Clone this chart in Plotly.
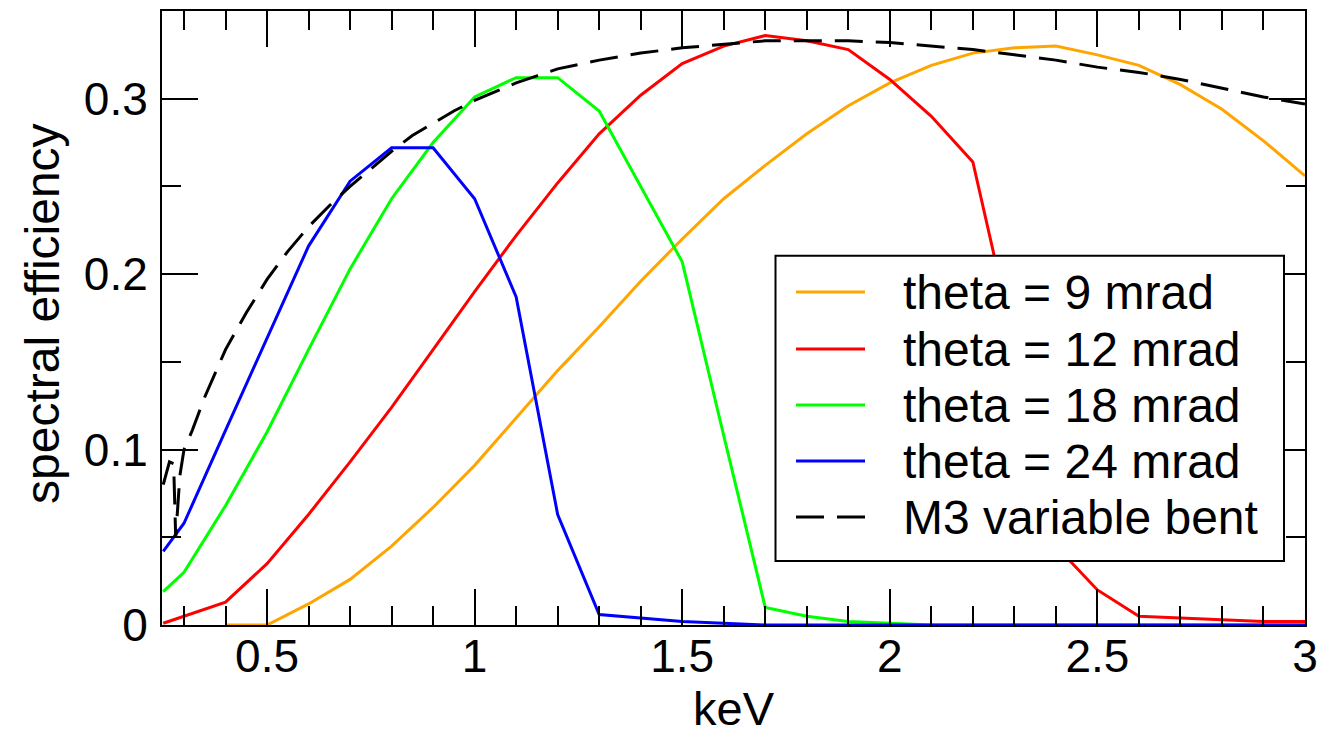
import plotly.graph_objects as go

# ---------------- data ----------------
energy = [0.25, 0.3, 0.4, 0.5, 0.6, 0.7, 0.8, 0.9, 1.0, 1.1, 1.2, 1.3, 1.4, 1.5,
          1.6, 1.7, 1.8, 1.9, 2.0, 2.1, 2.2, 2.3, 2.4, 2.5, 2.6, 2.7, 2.8, 2.9, 3.0]

eff_9mrad_x = energy[2:]
eff_9mrad = [0.0, 0.0, 0.012, 0.026, 0.045, 0.067, 0.091, 0.118, 0.145, 0.170,
             0.196, 0.220, 0.243, 0.262, 0.280, 0.296, 0.309, 0.319, 0.326, 0.329,
             0.330, 0.325, 0.319, 0.308, 0.294, 0.276, 0.256]

eff_12mrad = [0.001, 0.005, 0.013, 0.035, 0.063, 0.093, 0.124, 0.157, 0.190, 0.222,
              0.252, 0.280, 0.302, 0.320, 0.330, 0.336, 0.333, 0.328, 0.311, 0.290,
              0.264, 0.160, 0.045, 0.020, 0.005, 0.004, 0.003, 0.002, 0.002]

eff_18mrad = [0.019, 0.030, 0.068, 0.110, 0.157, 0.203, 0.243, 0.275, 0.301, 0.312,
              0.312, 0.293, 0.250, 0.207, 0.108, 0.010, 0.005, 0.002, 0.001, 0.0,
              0.0, 0.0, 0.0, 0.0, 0.0, 0.0, 0.0, 0.0, 0.0]

eff_24mrad = [0.042, 0.058, 0.111, 0.163, 0.216, 0.253, 0.272, 0.272, 0.243, 0.187,
              0.063, 0.006, 0.004, 0.002, 0.001, 0.0, 0.0, 0.0, 0.0, 0.0,
              0.0, 0.0, 0.0, 0.0, 0.0, 0.0, 0.0, 0.0, 0.0]

m3_energy = [0.25, 0.265, 0.275, 0.28, 0.29, 0.30, 0.32, 0.35, 0.40, 0.45, 0.50, 0.55,
             0.60, 0.65, 0.70, 0.75, 0.80, 0.85, 0.90, 0.95, 1.00, 1.05, 1.10, 1.15,
             1.20, 1.30, 1.40, 1.50, 1.60, 1.70, 1.80, 1.90, 2.00, 2.10, 2.20, 2.30,
             2.40, 2.50, 2.60, 2.70, 2.80, 2.90, 3.00]
m3_eff = [0.080, 0.093, 0.092, 0.050, 0.085, 0.100, 0.111, 0.130, 0.157, 0.178, 0.197, 0.213,
          0.227, 0.239, 0.250, 0.260, 0.270, 0.279, 0.286, 0.293, 0.299, 0.304, 0.309, 0.313,
          0.317, 0.322, 0.326, 0.329, 0.331, 0.333, 0.333, 0.333, 0.332, 0.330, 0.328, 0.325,
          0.322, 0.318, 0.315, 0.311, 0.306, 0.301, 0.297]

series_names = ["theta = 9 mrad", "theta = 12 mrad", "theta = 18 mrad",
                "theta = 24 mrad", "M3 variable bent"]
series_colors = ["#FFA500", "#FF0000", "#00FF00", "#0000FF", "#000000"]
series_dash = ["solid", "solid", "solid", "solid", "28px,13px"]

x_ticks = [0.5, 1, 1.5, 2, 2.5, 3]
y_ticks = [0, 0.1, 0.2, 0.3]
x_title = "keV"
y_title = "spectral efficiency"

# ---------------- figure ----------------
FONT = "Liberation Sans, Arial, Helvetica, sans-serif"
fig = go.Figure()

xs = [eff_9mrad_x, energy, energy, energy, m3_energy]
ys = [eff_9mrad, eff_12mrad, eff_18mrad, eff_24mrad, m3_eff]
for i in range(len(series_names)):
    fig.add_trace(go.Scatter(
        x=xs[i], y=ys[i], mode="lines", name=series_names[i],
        line=dict(color=series_colors[i], width=3, dash=series_dash[i]),
        showlegend=False, cliponaxis=True))

W, H = 1322, 737
ML, MR, MT, MB = 162, 17, 11, 112
PW, PH = W - ML - MR, H - MT - MB


def px_x(p):
    return (p - ML) / PW


def px_y(p):
    return (H - MB - p) / PH


# ---- hand-built legend (box, line samples, labels) ----
box_l, box_r, box_t, box_b = 775.5, 1284, 255.7, 561
fig.add_shape(type="rect", xref="paper", yref="paper",
              x0=px_x(box_l), x1=px_x(box_r), y0=px_y(box_b), y1=px_y(box_t),
              line=dict(color="black", width=2), fillcolor="white", layer="above")
row_y = [292, 349, 405, 461, 517]
for i, name in enumerate(series_names):
    fig.add_shape(type="line", xref="paper", yref="paper",
                  x0=px_x(796), x1=px_x(865), y0=px_y(row_y[i]), y1=px_y(row_y[i]),
                  line=dict(color=series_colors[i], width=3, dash=series_dash[i]),
                  layer="above")
    fig.add_annotation(xref="paper", yref="paper", x=px_x(901), y=px_y(row_y[i]),
                       text=name, showarrow=False, xanchor="left", yanchor="middle",
                       font=dict(family=FONT, size=48, color="black"))

# y-axis title
fig.add_annotation(xref="paper", yref="paper", x=px_x(42), y=px_y(314),
                   text=y_title, textangle=-90, showarrow=False,
                   xanchor="center", yanchor="middle",
                   font=dict(family=FONT, size=48, color="black"))

axis_common = dict(
    showline=True, linecolor="black", linewidth=2, mirror="ticks",
    ticks="inside", ticklen=36, tickwidth=2, tickcolor="black",
    showgrid=False, zeroline=False, automargin=False,
    tickfont=dict(family=FONT, size=46, color="black"),
)

fig.update_xaxes(
    range=[0.247, 3], tickvals=x_ticks, ticktext=[f"{v:g}" for v in x_ticks],
    minor=dict(ticks="inside", ticklen=19, tickwidth=2, tickcolor="black", dtick=0.1, tick0=0),
    title=dict(text=x_title, font=dict(family=FONT, size=47, color="black"), standoff=4),
    ticklabelstandoff=-10,
    **axis_common)
fig.update_yaxes(
    range=[0, 0.35], tickvals=y_ticks, ticktext=[f"{v:g}" for v in y_ticks],
    minor=dict(ticks="inside", ticklen=19, tickwidth=2, tickcolor="black", dtick=0.05, tick0=0),
    ticklabelstandoff=3,
    **axis_common)

fig.update_layout(
    width=W, height=H,
    margin=dict(l=ML, r=MR, t=MT, b=MB, pad=0),
    plot_bgcolor="white", paper_bgcolor="white",
    font=dict(family=FONT, color="black"),
    showlegend=False,
)

fig.write_html("out.html", config={"displayModeBar": False},
               post_script="document.body.style.margin='0';")
